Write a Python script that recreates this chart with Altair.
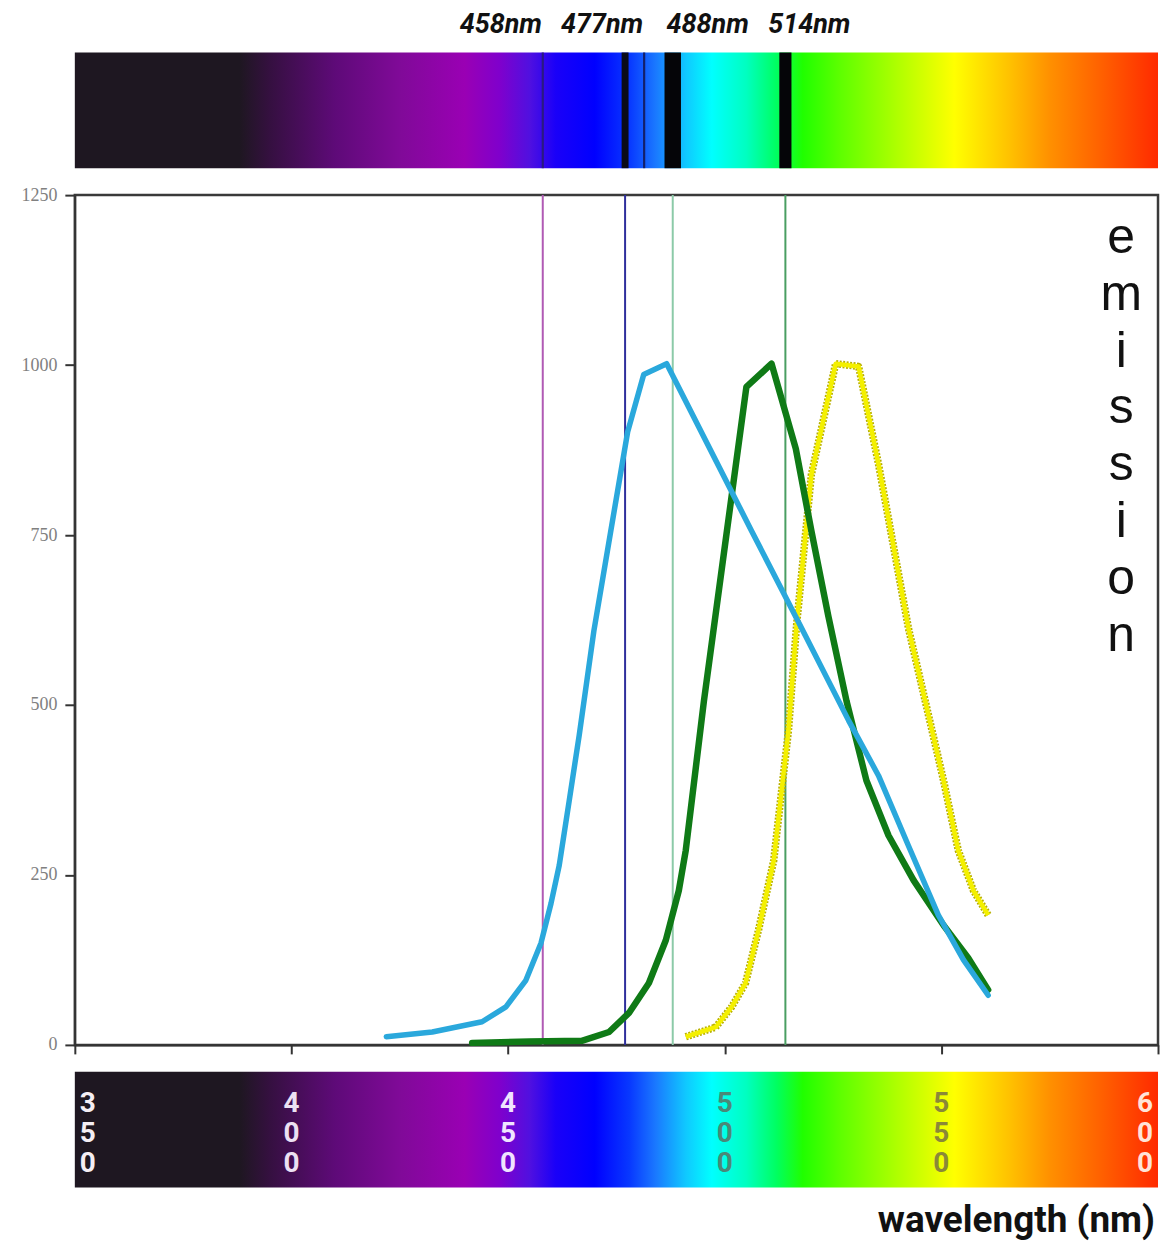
import altair as alt
import pandas as pd

# ---------------- data ----------------
cyan_nm = [421.9, 432.5, 444.0, 449.5, 454.1, 457.6, 459.9, 461.8, 464.1, 466.4, 469.8,
           473.7, 477.6, 481.3, 486.6, 506.2, 517.1, 528.6, 535.5, 542.4, 549.3, 555.1, 560.8]
cyan_val = [12, 19, 34, 56, 95, 150, 208, 264, 359, 455, 609,
            756, 902, 986, 1002, 756, 621, 477, 396, 293, 191, 125, 73]

green_nm = [441.7, 455.0, 467.0, 473.3, 477.9, 482.5, 486.4, 489.4, 491.0, 495.2, 500.5,
            505.0, 510.8, 516.4, 520.0, 523.9, 528.1, 532.7, 537.8, 543.6, 550.5, 556.2, 560.8]
green_val = [3, 5, 6, 19, 47, 91, 154, 227, 286, 506, 756,
             968, 1002, 877, 756, 631, 506, 389, 308, 242, 176, 128, 81]

yellow_nm = [491.0, 497.9, 501.6, 504.8, 507.8, 511.3, 514.7, 516.6, 520.0, 525.6, 530.9,
             535.5, 542.4, 550.5, 553.9, 557.4, 560.8]
yellow_val = [12, 26, 56, 91, 169, 271, 462, 619, 839, 1002, 998,
              854, 613, 389, 286, 227, 191]

laser_nm = [458, 477, 488, 514]
laser_labels = ["458nm", "477nm", "488nm", "514nm"]

# dark bands in the top spectrum bar
band_center_nm = [458, 477, 481.4, 488, 514]
band_width_nm = [0.5, 1.6, 0.5, 3.8, 2.8]

# spectrum colour stops
spectrum_nm = [350, 388, 395, 410, 425, 440, 448, 455, 461, 470, 478, 484, 491, 497,
               505, 512, 518, 527, 540, 553, 566, 575, 587, 600]
spectrum_colors = ["#1e1721", "#1e1721", "#351040", "#5e0a78", "#800a98", "#9a00b4",
                   "#8000cc", "#5010e0", "#1a00f8", "#0000ff", "#0838ff", "#1a78ff",
                   "#10c8ff", "#00ffff", "#00ffc0", "#00ff60", "#20ff00", "#60ff00",
                   "#b0ff00", "#ffff00", "#ffc000", "#ff9000", "#ff6000", "#ff2a00"]

tick_nm = [350, 400, 450, 500, 550, 600]
tick_text = ["3\n5\n0", "4\n0\n0", "4\n5\n0", "5\n0\n0", "5\n5\n0", "6\n0\n0"]
y_ticks = [0, 250, 500, 750, 1000, 1250]

# ---------------- styles ----------------
W = 1086
BAR_H = 116
MAIN_H = 852
laser_colors = ["#b05ab4", "#2f2f9c", "#8ccaa8", "#4a9e62"]
label_dx = [-42, -23, 35, 24]
band_colors = ["#2a1a80", "#0a0a18", "#14206a", "#050508", "#050508"]
tick_label_colors = ["#f4eef4", "#ece0f2", "#f0e4ff", "#4a8878", "#8a8838", "#ffe4d8"]
tick_label_dx = [13, 0, 0, 0, 0, -13]
COND = "Roboto, Liberation Sans, sans-serif"

xscale = alt.Scale(domain=[350, 600], nice=False, zero=False)

grad = alt.Gradient(
    gradient="linear",
    stops=[alt.GradientStop(offset=(n - 350) / 250, color=c)
           for n, c in zip(spectrum_nm, spectrum_colors)],
    x1=0, x2=1, y1=0, y2=0,
)
bar_df = pd.DataFrame({"x0": [spectrum_nm[0]], "x1": [spectrum_nm[-1]]})


def spectrum_bar():
    return alt.Chart(bar_df).mark_rect(color=grad).encode(
        x=alt.X("x0:Q", scale=xscale, axis=None), x2="x1:Q")


# ---------------- top bar ----------------
bands_df = pd.DataFrame({
    "x0": [c - w / 2 for c, w in zip(band_center_nm, band_width_nm)],
    "x1": [c + w / 2 for c, w in zip(band_center_nm, band_width_nm)],
    "col": band_colors,
})
top_bands = alt.Chart(bands_df).mark_rect().encode(
    x=alt.X("x0:Q", scale=xscale, axis=None), x2="x1:Q",
    color=alt.Color("col:N", scale=None))

top_layers = [spectrum_bar(), top_bands]
for nm, lab, dx in zip(laser_nm, laser_labels, label_dx):
    top_layers.append(
        alt.Chart(pd.DataFrame({"nm": [nm], "t": [lab]})).mark_text(
            dx=dx, font=COND, fontSize=27, fontWeight="bold", fontStyle="italic",
            color="#111", baseline="middle", align="center", clip=False
        ).encode(x=alt.X("nm:Q", scale=xscale, axis=None), y=alt.value(-28), text="t:N")
    )
top = alt.layer(*top_layers).properties(width=W, height=BAR_H)

# ---------------- main plot ----------------
def curve_df(nm, val):
    return pd.DataFrame({"nm": nm, "v": val})


xax = alt.Axis(values=tick_nm, labels=False, title=None, grid=False, tickSize=9,
               tickWidth=2, tickColor="#333", domainColor="#333", domainWidth=2)
yax = alt.Axis(values=y_ticks, format="d", title=None, grid=False, tickSize=10, tickWidth=2,
               tickColor="#333", domainColor="#333", domainWidth=2,
               labelFont="Liberation Serif", labelFontSize=18, labelColor="#808080",
               labelPadding=8)
yscale = alt.Scale(domain=[0, 1250], nice=False, zero=True)

lasers_df = pd.DataFrame({"nm": laser_nm, "col": laser_colors})
laser_rules = alt.Chart(lasers_df).mark_rule(strokeWidth=2).encode(
    x=alt.X("nm:Q", scale=xscale, axis=xax),
    y=alt.datum(0, scale=yscale, axis=yax),
    y2=alt.datum(1250),
    color=alt.Color("col:N", scale=None))

enc = dict(x=alt.X("nm:Q", scale=xscale, axis=xax),
           y=alt.Y("v:Q", scale=yscale, axis=yax))

yellow_edge = alt.Chart(curve_df(yellow_nm, yellow_val)).mark_line(
    color="#b8b000", strokeWidth=7.5, strokeDash=[2, 1.5], strokeJoin="round").encode(**enc)
yellow_core = alt.Chart(curve_df(yellow_nm, yellow_val)).mark_line(
    color="#f4f000", strokeWidth=4.5, strokeJoin="round").encode(**enc)
green_line = alt.Chart(curve_df(green_nm, green_val)).mark_line(
    color="#0f7a16", strokeWidth=6.5, strokeJoin="round", strokeCap="round").encode(**enc)
cyan_line = alt.Chart(curve_df(cyan_nm, cyan_val)).mark_line(
    color="#2aa8dc", strokeWidth=5.5, strokeJoin="round", strokeCap="round").encode(**enc)

emission = alt.Chart(pd.DataFrame({"t": ["e\nm\ni\ns\ns\ni\no\nn"]})).mark_text(
    font="Liberation Sans, Arial, sans-serif", fontSize=50, lineHeight=57,
    lineBreak="\n", color="#111", align="center", baseline="middle"
).encode(x=alt.datum(591.5), y=alt.datum(1187), text="t:N")

main = alt.layer(laser_rules, yellow_edge, yellow_core, green_line, cyan_line, emission).properties(
    width=W, height=MAIN_H,
    view=alt.ViewBackground(stroke="#3a3a3a", strokeWidth=2.5))

# ---------------- bottom bar ----------------
bottom_layers = [spectrum_bar()]
for nm, txt, col, dx in zip(tick_nm, tick_text, tick_label_colors, tick_label_dx):
    bottom_layers.append(
        alt.Chart(pd.DataFrame({"nm": [nm], "t": [txt]})).mark_text(
            dx=dx, font=COND, fontSize=28, fontWeight="bold", lineHeight=30,
            lineBreak="\n", color=col, align="center", baseline="middle"
        ).encode(x=alt.X("nm:Q", scale=xscale, axis=None), y=alt.value(32), text="t:N")
    )
bottom_layers.append(
    alt.Chart(pd.DataFrame({"nm": [600], "t": ["wavelength (nm)"]})).mark_text(
        font=COND, fontSize=37, fontWeight="bold", color="#111", dx=-3,
        align="right", baseline="alphabetic", clip=False
    ).encode(x=alt.X("nm:Q", scale=xscale, axis=None), y=alt.value(161), text="t:N")
)
bottom = alt.layer(*bottom_layers).properties(width=W, height=BAR_H)

chart = alt.vconcat(top, main, bottom, spacing=27, bounds="flush").properties(
    padding={"left": 11, "top": 0, "right": 0, "bottom": 0},
    background="white",
).configure_view(stroke="transparent")

chart.save("out.html", embed_options={"renderer": "svg", "actions": False})
